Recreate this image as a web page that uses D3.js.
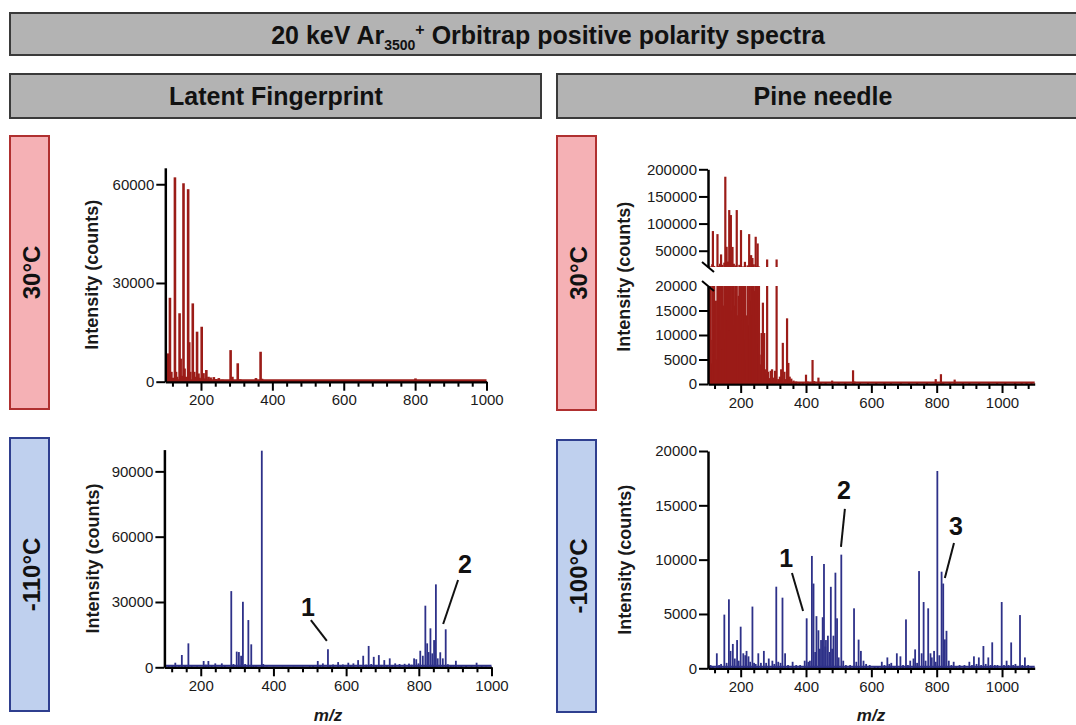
<!DOCTYPE html>
<html>
<head>
<meta charset="utf-8">
<script src="https://cdn.jsdelivr.net/npm/d3@7"></script>
<style>
  body { margin: 0; background: #fff; }
  svg { font-family: "Liberation Sans", Arial, sans-serif; }
</style>
</head>
<body>
<svg id="chart" width="1076" height="725"></svg>
<script>
// ---- data: [m/z, intensity] ----
const fpWarmPeaks = [
  [104, 1500], [108, 8600], [113, 25500], [117, 3000], [121, 1200], [127, 62100], [130, 3000],
  [133, 1500], [140, 20800], [143, 7000], [146, 1800], [151, 60300], [154, 4000], [158, 1500],
  [164, 58500], [167, 12000], [170, 3000], [177, 23800], [181, 3000], [185, 1500], [189, 15200],
  [193, 2500], [196, 1200], [202, 16700], [207, 2600], [210, 1000], [215, 3550], [221, 1500],
  [227, 1300], [236, 1400], [243, 800], [250, 1100], [260, 600], [270, 500], [283, 9600],
  [288, 1500], [303, 5600], [310, 700], [325, 500], [340, 400], [354, 1100], [367, 9100],
  [371, 900], [380, 400], [412, 300], [437, 300], [468, 350], [503, 300], [528, 300], [551, 350],
  [579, 300], [613, 300], [645, 300], [672, 350], [699, 300], [728, 300], [757, 300], [781, 300],
  [801, 1000], [806, 500], [823, 300], [858, 350], [887, 300], [911, 300], [944, 300], [971, 300], [989, 300]
];

const fpColdPeaks = [
  [112, 1000], [122, 600], [130, 2100], [140, 500], [148, 5650], [157, 800], [166, 11000],
  [175, 500], [190, 400], [208, 2900], [214, 1200], [221, 2900], [230, 600], [240, 1800],
  [258, 1800], [266, 600], [284, 35000], [290, 1500], [299, 7200], [305, 7000], [311, 5300],
  [316, 30100], [322, 1500], [331, 21700], [339, 10550], [345, 800], [352, 500], [368, 99500],
  [372, 1500], [382, 300], [400, 250], [425, 300], [455, 250], [480, 300], [500, 500], [509, 700],
  [522, 2900], [529, 800], [536, 1800], [550, 8300], [556, 900], [564, 1300], [578, 2400],
  [585, 600], [591, 1300], [606, 2100], [613, 700], [620, 1800], [633, 3300], [647, 5300],
  [655, 1200], [662, 9800], [669, 1500], [676, 4800], [683, 900], [690, 5600], [697, 1100],
  [705, 3300], [712, 900], [720, 4100], [727, 700], [735, 1800], [747, 1500], [761, 1600],
  [773, 1700], [780, 1200], [787, 4100], [793, 3700], [799, 1800], [804, 7600], [811, 5300],
  [818, 28300], [823, 11000], [827, 7000], [832, 17900], [837, 6400], [842, 12500], [847, 38100],
  [852, 4100], [859, 6900], [866, 4100], [874, 17450], [880, 1400], [888, 1000], [895, 500],
  [902, 3000], [910, 400], [917, 700], [930, 1000], [945, 500], [959, 2100], [973, 500], [985, 300]
];

const pineWarmPeaks = [
  [104, 3500], [106, 21000], [108, 9000], [111, 4200], [113, 25000], [115, 86200], [117, 6000],
  [119, 22000], [121, 12000], [124, 17000], [126, 5000], [129, 80600], [131, 22000], [133, 8000],
  [135, 14000], [137, 26000], [140, 43200], [142, 11000], [144, 24000], [146, 7000], [148, 16000],
  [150, 28000], [153, 186300], [155, 9000], [157, 57200], [159, 13000], [161, 30000], [163, 18000],
  [165, 124900], [167, 11000], [170, 115700], [172, 15000], [175, 57000], [177, 19000], [179, 26000],
  [181, 12000], [183, 16000], [185, 23000], [188, 124900], [190, 14000], [192, 10000], [194, 18000],
  [196, 24000], [198, 8000], [201, 88000], [203, 13000], [205, 6000], [207, 21000], [209, 11000],
  [211, 16000], [213, 29500], [215, 9000], [217, 14000], [219, 5000], [221, 23000], [224, 12000],
  [226, 80600], [228, 17000], [230, 9000], [232, 41900], [234, 19000], [236, 36600], [238, 14000],
  [240, 25000], [242, 7000], [244, 19000], [246, 75700], [248, 12000], [250, 22000], [252, 63400],
  [254, 8000], [256, 21000], [258, 6000], [261, 4000], [264, 10400], [268, 16600], [272, 10400],
  [276, 3000], [278, 2000], [281, 33900], [284, 2500], [288, 1200], [292, 2700], [296, 3000],
  [300, 1300], [305, 2700], [310, 33900], [315, 1000], [320, 1500], [324, 3000], [329, 8400],
  [334, 2500], [338, 1000], [342, 13400], [346, 4300], [350, 1500], [355, 1100], [362, 700],
  [370, 500], [380, 400], [390, 400], [400, 1900], [405, 500], [413, 300], [420, 4900], [425, 600],
  [438, 1300], [445, 300], [460, 300], [480, 700], [500, 300], [520, 400], [544, 2800], [548, 500],
  [565, 300], [590, 300], [615, 400], [640, 300], [660, 300], [690, 350], [715, 300], [740, 300],
  [770, 300], [797, 1000], [813, 2000], [820, 400], [840, 300], [855, 900], [880, 300], [900, 300],
  [930, 300], [960, 300], [985, 300], [1010, 300], [1040, 300], [1060, 400], [1075, 300], [1090, 300]
];

const pineColdPeaks = [
  [108, 300], [115, 200], [127, 1380], [134, 300], [140, 400], [150, 4940], [157, 500], [164, 6350],
  [169, 1600], [176, 2240], [182, 900], [189, 2600], [194, 700], [200, 3830], [208, 1380], [214, 1200],
  [218, 1600], [224, 1100], [229, 600], [236, 5680], [241, 500], [246, 400], [254, 1380], [262, 500],
  [271, 1600], [278, 500], [286, 900], [297, 700], [303, 400], [309, 7510], [315, 600], [322, 500],
  [328, 6500], [336, 1380], [345, 300], [359, 600], [370, 300], [382, 300], [396, 700], [402, 4600],
  [407, 600], [412, 700], [418, 10340], [423, 7800], [428, 1500], [432, 4800], [438, 3500], [442, 1800],
  [446, 2600], [451, 4700], [455, 9600], [459, 2000], [461, 2600], [467, 3000], [472, 1500], [476, 7500],
  [480, 1800], [484, 3000], [490, 8800], [495, 4600], [500, 1000], [508, 10460], [514, 700], [522, 300],
  [535, 300], [547, 5520], [554, 600], [561, 2640], [568, 1600], [576, 700], [584, 400], [595, 300],
  [610, 200], [620, 200], [632, 600], [640, 300], [649, 1000], [655, 400], [661, 500], [670, 200],
  [678, 1380], [689, 1100], [697, 300], [706, 4500], [712, 300], [719, 700], [729, 900], [734, 1740],
  [740, 500], [746, 8950], [754, 1380], [760, 6100], [766, 700], [774, 5520], [781, 1380], [785, 1000],
  [792, 1600], [797, 600], [802, 18160], [808, 1200], [815, 8890], [820, 7800], [825, 2660], [830, 3450],
  [837, 700], [845, 300], [852, 600], [860, 200], [870, 300], [885, 300], [900, 600], [908, 300],
  [914, 1100], [922, 400], [929, 1000], [936, 300], [943, 2050], [950, 400], [958, 1000], [965, 300],
  [970, 2390], [978, 300], [986, 300], [999, 6100], [1006, 300], [1014, 700], [1020, 300], [1028, 2380],
  [1034, 300], [1041, 400], [1048, 200], [1055, 4900], [1062, 300], [1070, 1000], [1080, 300], [1090, 200]
];

// tick labels
const fpXLabels = [200, 400, 600, 800, 1000];
const pineXLabels = [200, 400, 600, 800, 1000];
const fpWarmYTicks = [0, 30000, 60000];
const fpColdYTicks = [0, 30000, 60000, 90000];
const pineWarmUpperTicks = [50000, 100000, 150000, 200000];
const pineWarmLowerTicks = [0, 5000, 10000, 15000, 20000];
const pineColdYTicks = [0, 5000, 10000, 15000, 20000];

// numbered peak callouts: [label, textMz, textInt, lineFromMz, lineFromInt, lineToMz, lineToInt]
const fpColdNotes = [
  ['1', 495, 27700, 503, 21700, 547, 12100],
  ['2', 927, 47600, 908, 40100, 867, 19900]
];
const pineColdNotes = [
  ['1', 339, 10160, 357, 8770, 391, 5280],
  ['2', 516, 16420, 519, 14670, 507, 11170],
  ['3', 859, 13100, 853, 11540, 825, 8320]
];

const RED = '#9b1c18';
const NAVY = '#2e3189';

const svg = d3.select('#chart');

// ---- header boxes ----
function box(x, y, w, h, fill, stroke) {
  svg.append('rect').attr('x', x).attr('y', y).attr('width', w).attr('height', h)
    .attr('fill', fill).attr('stroke', stroke).attr('stroke-width', 2);
}

box(10, 13, 1080, 42, '#b3b3b3', '#3a3a3a');
const title = svg.append('text').attr('x', 548).attr('y', 44)
  .attr('text-anchor', 'middle').attr('font-weight', 'bold').attr('font-size', 25).attr('fill', '#111');
title.append('tspan').text('20 keV Ar');
title.append('tspan').attr('dy', 6).attr('font-size', 14).text('3500');
title.append('tspan').attr('dy', -15).attr('font-size', 16).text('+');
title.append('tspan').attr('dy', 9).text(' Orbitrap positive polarity spectra');

box(10, 74, 531, 44, '#b3b3b3', '#3a3a3a');
box(557, 74, 530, 44, '#b3b3b3', '#3a3a3a');
svg.append('text').attr('x', 276).attr('y', 105).attr('text-anchor', 'middle')
  .attr('font-weight', 'bold').attr('font-size', 25).attr('fill', '#111').text('Latent Fingerprint');
svg.append('text').attr('x', 823).attr('y', 105).attr('text-anchor', 'middle')
  .attr('font-weight', 'bold').attr('font-size', 25).attr('fill', '#111').text('Pine needle');

function sideLabel(x, y, h, fill, stroke, label) {
  box(x, y, 39, h, fill, stroke);
  svg.append('text').attr('transform', `translate(${x + 21},${y + h / 2}) rotate(-90)`)
    .attr('text-anchor', 'middle').attr('dominant-baseline', 'central')
    .attr('font-weight', 'bold').attr('font-size', 24).attr('fill', '#111').text(label);
}
sideLabel(10, 136, 273, '#f5b1b5', '#b03030', '30°C');
sideLabel(10, 438, 273, '#bfd0ee', '#2f3f8f', '-110°C');
sideLabel(557, 136, 274, '#f5b1b5', '#b03030', '30°C');
sideLabel(557, 440, 272, '#bfd0ee', '#2f3f8f', '-100°C');

// ---- helpers ----
function styleAxis(g) {
  g.selectAll('.domain').attr('stroke', '#000').attr('stroke-width', 2.5);
  g.selectAll('.tick line').attr('stroke', '#000').attr('stroke-width', 2);
  g.selectAll('.tick text').attr('font-size', 15).attr('fill', '#1a1a1a')
    .attr('font-family', '"Liberation Sans", Arial, sans-serif');
}

function xAxis(g, x, bottom, labels, maxMz) {
  const ax = d3.axisBottom(x)
    .tickValues(d3.range(120, maxMz + 1, 40))
    .tickSize(5).tickSizeOuter(0).tickPadding(7)
    .tickFormat(d => labels.includes(d) ? d : '');
  const gx = g.append('g').attr('transform', `translate(0,${bottom})`).call(ax);
  gx.selectAll('.tick').filter(d => labels.includes(d)).select('line').attr('y2', 9);
  gx.selectAll('.tick text').attr('y', 13);
  styleAxis(gx);
  return gx;
}

function yAxis(g, y, left, ticks) {
  const ax = d3.axisLeft(y).tickValues(ticks).tickSize(9).tickSizeOuter(0).tickPadding(2)
    .tickFormat(d3.format('d'));
  const gy = g.append('g').attr('transform', `translate(${left},0)`).call(ax);
  styleAxis(gy);
  return gy;
}

function yTitle(x, y) {
  svg.append('text').attr('transform', `translate(${x},${y}) rotate(-90)`)
    .attr('text-anchor', 'middle').attr('dominant-baseline', 'central')
    .attr('font-weight', 'bold').attr('font-size', 18).attr('fill', '#1a1a1a')
    .text('Intensity (counts)');
}

function mzTitle(x, y) {
  svg.append('text').attr('x', x).attr('y', y).attr('text-anchor', 'middle')
    .attr('font-weight', 'bold').attr('font-style', 'italic').attr('font-size', 17)
    .attr('fill', '#1a1a1a').text('m/z');
}

function notes(g, x, y, list) {
  list.forEach(n => {
    g.append('text').attr('x', x(n[1])).attr('y', y(n[2])).attr('text-anchor', 'middle')
      .attr('dominant-baseline', 'central').attr('font-weight', 'bold').attr('font-size', 25)
      .attr('fill', '#111').text(n[0]);
    g.append('line').attr('x1', x(n[3])).attr('y1', y(n[4])).attr('x2', x(n[5])).attr('y2', y(n[6]))
      .attr('stroke', '#111').attr('stroke-width', 2);
  });
}

// simple spectrum panel
function panel(p) {
  const x = d3.scaleLinear().domain(p.xDomain).range([p.left, p.right]);
  const y = d3.scaleLinear().domain(p.yDomain).range([p.bottom, p.top]);
  const g = svg.append('g');
  g.selectAll('rect.bar').data(p.peaks).join('rect').attr('class', 'bar')
    .attr('x', d => x(d[0]) - p.barW / 2).attr('y', d => y(d[1]))
    .attr('width', p.barW).attr('height', d => y(0) - y(d[1])).attr('fill', p.color);
  xAxis(g, x, p.bottom, p.xLabels, p.xDomain[1]);
  g.append('line').attr('x1', x(p.xDomain[0])).attr('x2', x(p.xDomain[1]))
    .attr('y1', p.bottom - 1.5).attr('y2', p.bottom - 1.5)
    .attr('stroke', p.color).attr('stroke-width', 2);
  yAxis(g, y, p.left, p.yTicks);
  yTitle(p.titleX, (p.top + p.bottom) / 2);
  if (p.notes) notes(g, x, y, p.notes);
  return { x, y, g };
}

// Latent fingerprint, 30 C
panel({ peaks: fpWarmPeaks, color: RED, barW: 2.6, xDomain: [100, 1000], yDomain: [0, 65000],
  left: 165.3, right: 486.5, bottom: 381.7, top: 167.8, xLabels: fpXLabels, yTicks: fpWarmYTicks, titleX: 92 });

// Latent fingerprint, -110 C
panel({ peaks: fpColdPeaks, color: NAVY, barW: 1.8, xDomain: [100, 1000], yDomain: [0, 100000],
  left: 164.4, right: 491.5, bottom: 667.3, top: 449.6, xLabels: fpXLabels, yTicks: fpColdYTicks,
  titleX: 93, notes: fpColdNotes });
mzTitle(328, 721);

// Pine needle, -100 C
panel({ peaks: pineColdPeaks, color: NAVY, barW: 1.8, xDomain: [100, 1100], yDomain: [0, 20000],
  left: 708, right: 1034.7, bottom: 668.3, top: 451, xLabels: pineXLabels, yTicks: pineColdYTicks,
  titleX: 625, notes: pineColdNotes });
mzTitle(871, 721);

// Pine needle, 30 C — broken y axis
(function () {
  const left = 708, right = 1034.7;
  const x = d3.scaleLinear().domain([100, 1100]).range([left, right]);
  const yLow = d3.scaleLinear().domain([0, 20000]).range([384, 286]);
  const yHigh = d3.scaleLinear().domain([20000, 200000]).range([267, 169.3]);
  const g = svg.append('g');
  const bw = 2.2;
  g.selectAll('rect.low').data(pineWarmPeaks).join('rect').attr('class', 'low')
    .attr('x', d => x(d[0]) - bw / 2).attr('y', d => yLow(Math.min(d[1], 20000)))
    .attr('width', bw).attr('height', d => yLow(0) - yLow(Math.min(d[1], 20000))).attr('fill', RED);
  g.selectAll('rect.high').data(pineWarmPeaks.filter(d => d[1] > 20000)).join('rect').attr('class', 'high')
    .attr('x', d => x(d[0]) - bw / 2).attr('y', d => yHigh(d[1]))
    .attr('width', bw).attr('height', d => yHigh(20000) - yHigh(d[1])).attr('fill', RED);
  xAxis(g, x, 384, pineXLabels, 1100);
  g.append('line').attr('x1', left).attr('x2', right).attr('y1', 382.5).attr('y2', 382.5)
    .attr('stroke', RED).attr('stroke-width', 2);
  const gl = yAxis(g, yLow, left, pineWarmLowerTicks);
  gl.selectAll('.tick').filter(d => d === 20000).select('line').attr('x2', 0);
  yAxis(g, yHigh, left, pineWarmUpperTicks);
  // break marks
  [yHigh(20000), yLow(20000)].forEach(yy => {
    g.append('line').attr('x1', left - 6).attr('y1', yy - 5).attr('x2', left + 6).attr('y2', yy + 5)
      .attr('stroke', '#000').attr('stroke-width', 2);
  });
  yTitle(624, (169.3 + 384) / 2);
})();
</script>
</body>
</html>
